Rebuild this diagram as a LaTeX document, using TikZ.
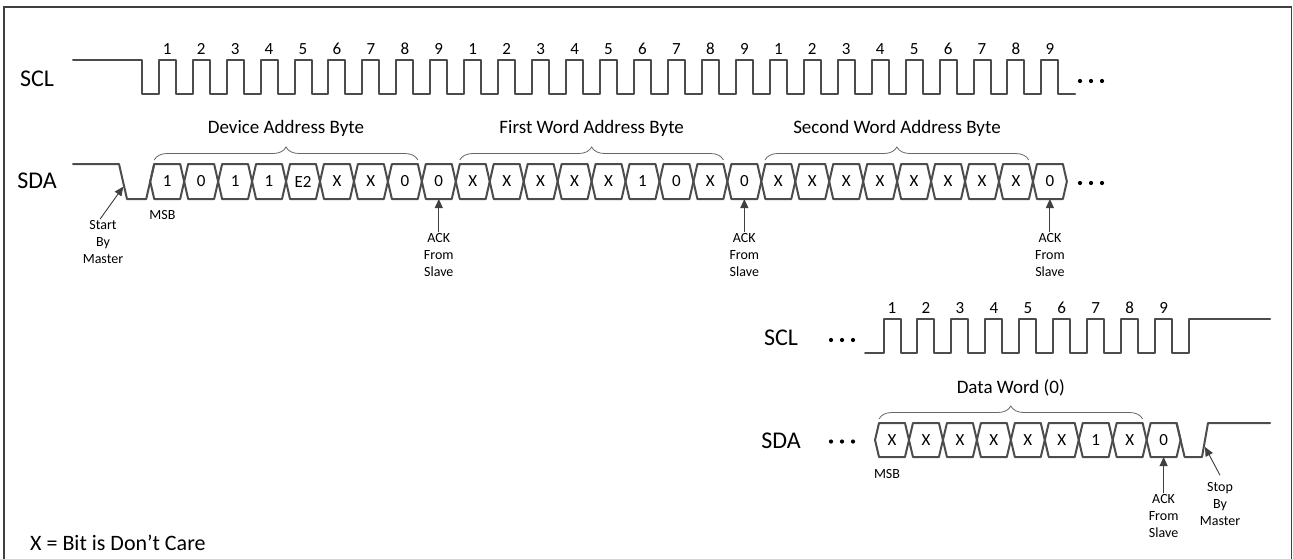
\documentclass[tikz,border=0pt]{standalone}
\usepackage{fontspec}
\setmainfont{Carlito}
\usetikzlibrary{arrows.meta,decorations.pathreplacing,positioning}

\begin{document}
\begin{tikzpicture}[x=1pt,y=-1pt]
	% styles used all over the timing chart
	\tikzset{
	        wave/.style={line width=2pt, draw=black!70, line join=round, line cap=round}, % signal traces
	        sig/.style={font=\fontsize{24}{28}\selectfont}, % SCL / SDA names
	        num/.style={font=\fontsize{17}{19}\selectfont, inner sep=0pt}, % clock counts and bit values
	        bytelbl/.style={font=\fontsize{19}{22}\selectfont}, % titles above the braces
	        note/.style={font=\fontsize{14}{17}\selectfont, align=center, inner sep=1pt}, % small notes
	        brc/.style={decorate, decoration={brace, amplitude=13pt}, draw=black!60, line width=0.8pt},
	        ptr/.style={-{Triangle[length=9pt,width=8pt]}, draw=black!75, fill=black!75, line width=0.9pt},
	}
	\useasboundingbox (0,0) rectangle (1293,558);
	% outer frame, open at the bottom
	\draw[black!75, line width=1.2pt] (4,562) -- (4,7) -- (1291.5,7) -- (1291.5,562);

	% ---- first row: SCL, three bytes of clocks
	\node[sig] (sclA) at (37,79) {SCL};
	\draw[wave] (73,60) -- (142,60) -- (142,94)
	    foreach \k in {0,...,26} { -- ({167.2+33.95*\k-8.5},94) -- ({167.2+33.95*\k-8.5},60)
	                               -- ({167.2+33.95*\k+8.5},60) -- ({167.2+33.95*\k+8.5},94) }
	    -- (1075,94);
	\foreach \k in {0,...,26} {
	    \pgfmathtruncatemacro\n{mod(\k,9)+1}
	    \node[num] (clkA\k) at ({167.2+33.95*\k},49) {\n};
	}
	\foreach \x in {1080,1091,1102} \fill[black] (\x,81) circle (2.1pt);

	% ---- first row: SDA, start condition then the bit cells
	\node[sig] (sdaA) at (37,181) {SDA};
	\draw[wave] (73,164) -- (119,164) -- (127,199) -- (146.2,199) -- (154.2,164);
	\foreach \v [count=\i from 0] in {1,0,1,1,E2,X,X,0,0,X,X,X,X,X,1,0,X,0,X,X,X,X,X,X,X,X,0} {
	    \pgfmathsetmacro\b{150.225+33.95*\i}
	    \draw[wave] (\b,181.5) -- ++(4,-17.5) -- ++(25.95,0) -- ++(4,17.5) -- ++(-4,17.5) -- ++(-25.95,0) -- cycle;
	    \node[num] (bitA\i) at ({\b+16.975},181.5) {\v};
	}
	\foreach \x in {1080,1091,1102} \fill[black] (\x,183) circle (2.1pt);

	% byte braces and their titles
	\draw[brc] (154.2,160) -- (417.9,160);
	\draw[brc] (459.8,160) -- (723.5,160);
	\draw[brc] (765.0,160) -- (1028.7,160);
	\node[bytelbl] (devbyte) at (286,128) {Device Address Byte};
	\node[bytelbl] (wordone) at (591.7,128) {First Word Address Byte};
	\node[bytelbl] (wordtwo) at (897,128) {Second Word Address Byte};

	% notes under the first SDA row
	\node[note] (msbA) at (162.5,215) {MSB};
	\node[note] (start) at (103,242) {Start\\By\\Master};
	\coordinate (startpt) at (123.3,186.7);
	\draw[ptr] ([xshift=-3pt]start.north) -- (startpt);
	\foreach \k/\nm in {8/ackA, 17/ackB, 26/ackC} {
	    \node[note] (\nm) at ({167.2+33.95*\k},255) {ACK\\From\\Slave};
	    \coordinate (\nm tip) at ({167.2+33.95*\k},199);
	    \draw[ptr] (\nm) -- (\nm tip);
	}

	% ---- second row: the data byte and the stop condition
	\node[sig] (sclB) at (781,338) {SCL};
	\draw[wave] (865,353)
	    foreach \k in {0,...,8} { -- ({892+33.95*\k-8.5},353) -- ({892+33.95*\k-8.5},319)
	                              -- ({892+33.95*\k+8.5},319) -- ({892+33.95*\k+8.5},353) }
	    -- (1189,353) -- (1189,319) -- (1270,319);
	\foreach \k in {0,...,8} {
	    \pgfmathtruncatemacro\n{\k+1}
	    \node[num] (clkB\k) at ({892+33.95*\k},308) {\n};
	}
	\foreach \x in {831,842,853} \fill[black] (\x,340) circle (2.1pt);

	\node[sig] (sdaB) at (781,441) {SDA};
	\foreach \v [count=\i from 0] in {X,X,X,X,X,X,1,X,0} {
	    \pgfmathsetmacro\b{875.025+33.95*\i}
	    \draw[wave] (\b,440) -- ++(4,-17) -- ++(25.95,0) -- ++(4,17) -- ++(-4,17) -- ++(-25.95,0) -- cycle;
	    \node[num] (bitB\i) at ({\b+16.975},440) {\v};
	}
	\draw[wave] (1176.6,423) -- (1184.6,457) -- (1202,457) -- (1208,423) -- (1270,423);
	\foreach \x in {831,842,853} \fill[black] (\x,441.5) circle (2.1pt);

	\draw[brc] (879,419) -- (1142.6,419);
	\node[bytelbl] (dataword) at (1010.8,388) {Data Word (0)};

	\node[note] (msbB) at (887,474) {MSB};
	\node[note] (ackD) at (1163.6,516) {ACK\\From\\Slave};
	\coordinate (ackDtip) at (1163.6,457);
	\draw[ptr] (ackD) -- (ackDtip);
	\node[note] (stop) at (1220,504) {Stop\\By\\Master};
	\coordinate (stoppt) at (1205,447);
	\draw[ptr] ([yshift=6pt]stop.north) -- (stoppt);

	% legend
	\node[font=\fontsize{22}{26}\selectfont, anchor=west, inner sep=0pt] (legend) at (30,543) {X = Bit is Don’t Care};
\end{tikzpicture}
\end{document}
